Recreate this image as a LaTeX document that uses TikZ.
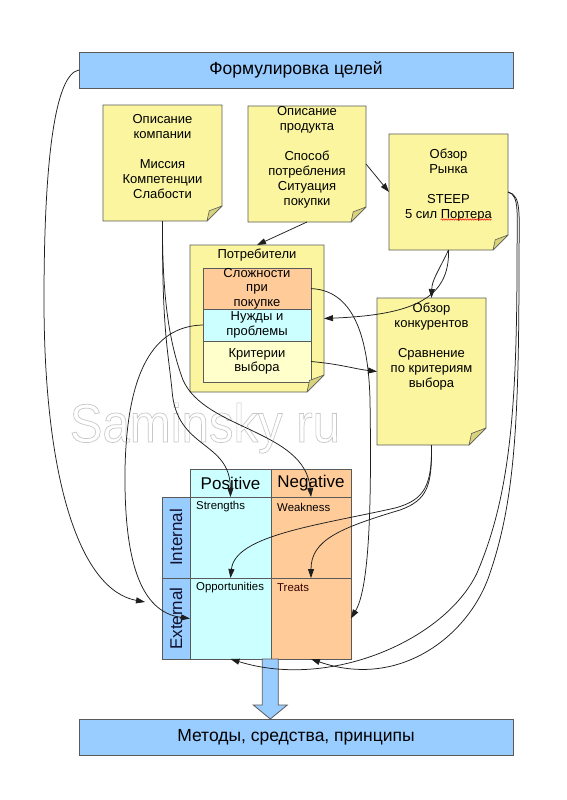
\documentclass[tikz,border=0pt]{standalone}
\usepackage{fontspec}
\setmainfont{Liberation Sans}
\usetikzlibrary{arrows.meta,backgrounds,decorations.pathmorphing}
\definecolor{barblue}{HTML}{99CCFF}
\definecolor{noteY}{HTML}{FAF59E}
\definecolor{foldY}{HTML}{D9D27C}
\definecolor{orangeC}{HTML}{FFCC99}
\definecolor{cyanC}{HTML}{CCFFFF}
\definecolor{paleY}{HTML}{FFFFCC}
\definecolor{edgeG}{HTML}{5A5A5A}
\definecolor{lineC}{HTML}{1E1E1E}
\definecolor{sideC}{HTML}{101030}
\newcommand\fsz[2]{\fontsize{#1}{#2}\selectfont}
\newcommand\notebody[2]{%
  \filldraw[notebody] (#1.north west) -- (#1.north east) -- ([yshift=#2pt]#1.south east) -- ([xshift=-#2pt]#1.south east) -- (#1.south west) -- cycle;}
\newcommand\notefold[2]{%
  \filldraw[notefold] ([yshift=#2pt]#1.south east) -- ([xshift=-0.85*#2pt,yshift=0.68*#2pt]#1.south east) -- ([xshift=-#2pt]#1.south east) -- cycle;}
\begin{document}
\begin{tikzpicture}[x=1pt,y=-1pt,
  bx/.style={draw=edgeG, line width=0.8pt, inner sep=0pt, outer sep=0pt, anchor=north west},
  bar/.style={bx, fill=barblue, minimum width=434pt, minimum height=36pt, font=\fsz{17.5}{20}},
  ghost/.style={inner sep=0pt, outer sep=0pt, anchor=north west},
  notebody/.style={fill=noteY, draw=edgeG, line width=0.8pt},
  notefold/.style={fill=foldY, draw=edgeG, line width=0.6pt, line join=round},
  ntext/.style={font=\fsz{13}{15}, align=center, inner sep=0pt},
  row/.style={bx, minimum width=108pt, font=\fsz{13}{14.7}, align=center},
  cell/.style={bx, minimum width=81pt, minimum height=81pt},
  head/.style={bx, minimum width=81pt, minimum height=28pt, font=\fsz{17}{20}},
  clab/.style={font=\fsz{11.4}{13}, anchor=west, inner sep=0pt},
  side/.style={bx, fill=barblue, minimum width=28pt, minimum height=81pt},
  sidetext/.style={font=\fsz{17}{20}, rotate=90, inner sep=0pt, text=sideC},
  conn/.style={draw=lineC, line width=0.75pt, -{Triangle[length=9pt,width=6pt]}},
]
\useasboundingbox (0,0) rectangle (566,800);
\fill[white] (0,0) rectangle (566,800);

% watermark
\node[anchor=base west, inner sep=0pt] (wm) at (69.5,442) {\special{pdf:literal direct 1 Tr 0.7 w 0.78 0.78 0.78 RG}\scalebox{0.91}[1]{\fsz{54}{60}Saminsky ru}\special{pdf:literal direct 0 Tr}};

% bars
\node[bar] (goal) at (79,52) {Формулировка целей};
\node[bar] (methods) at (79,719) {Методы, средства, принципы};

% sticky notes (frames)
\node[ghost, minimum width=119pt, minimum height=116pt] (company) at (103,105) {};
\node[ghost, minimum width=118pt, minimum height=116pt] (product) at (248,106) {};
\node[ghost, minimum width=119pt, minimum height=116pt] (market) at (389,134) {};
\node[ghost, minimum width=134pt, minimum height=147pt] (cons) at (190,245) {};
\node[ghost, minimum width=109pt, minimum height=147pt] (comp) at (377,298) {};
\notebody{company}{15}
\notebody{product}{15}
\notebody{market}{15}
\notebody{cons}{17}
\notebody{comp}{17}

% note texts
\node[ntext] (companyT) at (162.5,156.5) {Описание\\компании\\[15pt]Миссия\\Компетенции\\Слабости};
\node[ntext] (productT) at (307,157.5) {Описание\\продукта\\[15pt]Способ\\потребления\\Ситуация\\покупки};
\node[ntext] (marketT) at (448.5,185) {Обзор\\Рынка\\[15pt]STEEP\\5 сил Портера};
\draw[red, line width=0.5pt, decorate, decoration={snake, amplitude=0.7pt, segment length=2.4pt}] (440.6,219.5) -- (491.5,219.5);
\node[ntext] (compT) at (431.5,346.5) {Обзор\\конкурентов\\[15pt]Сравнение\\по критериям\\выбора};
\node[ntext] (consT) at (257,255) {Потребители};

% consumer rows
\node[row, fill=orangeC, minimum height=41pt] (slozh) at (203,268) {Сложности\\при\\покупке};
\node[row, fill=cyanC, minimum height=32pt] (nuzhdy) at (203,309) {Нужды и\\проблемы};
\node[row, fill=paleY, minimum height=41pt] (krit) at (203,341) {Критерии\\выбора};

\notefold{company}{15}
\notefold{product}{15}
\notefold{market}{15}
\notefold{cons}{17}
\notefold{comp}{17}

% SWOT
\node[head, fill=cyanC] (pos) at (190,469) {Positive};
\node[head, fill=orangeC, minimum width=80pt] (neg) at (271,469) {Negative};
\node[cell, fill=cyanC] (str) at (190,497) {};
\node[cell, fill=orangeC, minimum width=80pt] (weak) at (271,497) {};
\node[cell, fill=cyanC] (opp) at (190,578) {};
\node[cell, fill=orangeC, minimum width=80pt] (thr) at (271,578) {};
\node[side] (intl) at (162,497) {};
\node[side] (extl) at (162,578) {};
\node[sidetext] (intlT) at (intl.center) {Internal};
\node[sidetext] (extlT) at (extl.center) {External};
\node[clab] (strT) at (196,507) {Strengths};
\node[clab] (weakT) at (277,507) {Weakness};
\node[clab] (oppT) at (196,588) {Opportunities};
\node[clab, text=black!80!red] (thrT) at (277,588) {Treats};

% block arrow
\filldraw[fill=barblue, draw=edgeG, line width=0.8pt] (262.3,659) -- (278.3,659) -- (278.3,705) -- (287.3,705) -- (270.3,719) -- (253.3,705) -- (262.3,705) -- cycle;

% connectors
\coordinate (gx) at (145,602);
\draw[conn] (goal.west) .. controls (55,74) and (44,160) .. (44,300) .. controls (44,480) and (80,590) .. (gx);
\draw[conn] (company.south) .. controls (162,330) and (168,350) .. (172,390) .. controls (176,450) and (230,440) .. (str.north);
\draw[conn] (company.south) .. controls (162,300) and (170,345) .. (183,380) .. controls (205,430) and (305,430) .. (weak.north);
\draw[conn] (product.south) -- (cons.north);
\draw[conn] (product.east) -- (market.west);
\draw[conn] (market.south) .. controls (438,272) and (432,280) .. (comp.north);
\draw[conn] (market.south) .. controls (450,300) and (410,315) .. (cons.east);
\draw[conn] (market.east) .. controls (520,195) and (517,215) .. (517,260) .. controls (517,420) and (508,500) .. (477,573) .. controls (445,640) and (330,690) .. (opp.south);
\draw[conn] (market.east) .. controls (522,195) and (519,215) .. (519,260) .. controls (519,420) and (515,500) .. (490,573) .. controls (470,635) and (400,690) .. (thr.south);
\draw[conn] (comp.south) .. controls (432,485) and (425,500) .. (395,508) .. controls (320,525) and (235,535) .. (opp.north);
\draw[conn] (comp.south) .. controls (432,485) and (428,500) .. (400,510) .. controls (340,528) and (311,540) .. (thr.north);
\draw[conn] (slozh.east) .. controls (345,290) and (368,320) .. (370,400) .. controls (372,520) and (368,590) .. (thr.east);
\draw[conn] (nuzhdy.west) .. controls (160,326) and (127,360) .. (125,470) .. controls (124,560) and (140,612) .. (opp.west);
\draw[conn] (krit.east) .. controls (340,364) and (355,369) .. (comp.west);
\end{tikzpicture}
\end{document}
